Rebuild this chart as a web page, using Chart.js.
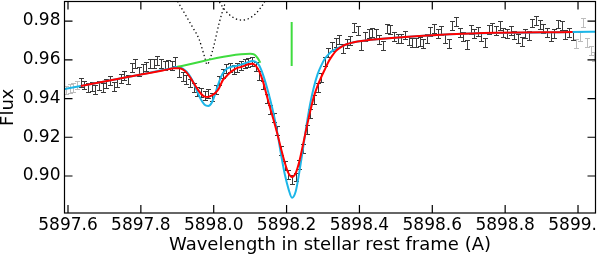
<!DOCTYPE html>
<html>
<head>
<meta charset="utf-8">
<script src="https://cdn.jsdelivr.net/npm/chart.js@4.4.0/dist/chart.umd.min.js"></script>
<style>
  body { margin: 0; background: #fff; }
  #wrap { width: 598px; height: 259px; overflow: hidden; }
  /* canvas is a bit larger so the plot box can touch the top/right edges */
  #spec { display: block; margin-top: -13px; }
</style>
</head>
<body>
<div id="wrap"><canvas id="spec" width="630" height="272"></canvas></div>
<script>
// observed spectrum (wavelength in A, normalised flux)
const wave = [
  5897.595, 5897.605, 5897.615, 5897.625, 5897.635, 5897.645, 5897.655, 5897.665, 5897.675, 5897.685,
  5897.695, 5897.705, 5897.715, 5897.725, 5897.735, 5897.745, 5897.755, 5897.765, 5897.775, 5897.785,
  5897.795, 5897.805, 5897.815, 5897.825, 5897.835, 5897.845, 5897.855, 5897.865, 5897.875, 5897.885,
  5897.895, 5897.905, 5897.915, 5897.925, 5897.935, 5897.945, 5897.955, 5897.965, 5897.975, 5897.985,
  5897.995, 5898.005, 5898.015, 5898.025, 5898.035, 5898.045, 5898.055, 5898.065, 5898.075, 5898.085,
  5898.095, 5898.105, 5898.115, 5898.125, 5898.135, 5898.145, 5898.155, 5898.165, 5898.175, 5898.185,
  5898.195, 5898.205, 5898.215, 5898.225, 5898.235, 5898.245, 5898.255, 5898.265, 5898.275, 5898.285,
  5898.295, 5898.305, 5898.315, 5898.325, 5898.335, 5898.345, 5898.355, 5898.365, 5898.375, 5898.385,
  5898.395, 5898.405, 5898.415, 5898.425, 5898.435, 5898.445, 5898.455, 5898.465, 5898.475, 5898.485,
  5898.495, 5898.505, 5898.515, 5898.525, 5898.535, 5898.545, 5898.555, 5898.565, 5898.575, 5898.585,
  5898.595, 5898.605, 5898.615, 5898.625, 5898.635, 5898.645, 5898.655, 5898.665, 5898.675, 5898.685,
  5898.695, 5898.705, 5898.715, 5898.725, 5898.735, 5898.745, 5898.755, 5898.765, 5898.775, 5898.785,
  5898.795, 5898.805, 5898.815, 5898.825, 5898.835, 5898.845, 5898.855, 5898.865, 5898.875, 5898.885,
  5898.895, 5898.905, 5898.915, 5898.925, 5898.935, 5898.945, 5898.955, 5898.965, 5898.975, 5898.985,
  5898.995, 5899.005, 5899.015, 5899.025, 5899.035, 5899.045
];
const flux = [
  0.9444, 0.9452, 0.9458, 0.9470, 0.9482, 0.9470, 0.9455, 0.9462, 0.9446, 0.9468,
  0.9455, 0.9478, 0.9493, 0.9462, 0.9480, 0.9505, 0.9518, 0.9497, 0.9560, 0.9582,
  0.9540, 0.9556, 0.9565, 0.9580, 0.9583, 0.9598, 0.9580, 0.9570, 0.9575, 0.9572,
  0.9590, 0.9535, 0.9512, 0.9498, 0.9480, 0.9458, 0.9436, 0.9432, 0.9418, 0.9425,
  0.9408, 0.9445, 0.9492, 0.9528, 0.9555, 0.9562, 0.9550, 0.9558, 0.9572, 0.9580,
  0.9585, 0.9592, 0.9565, 0.9520, 0.9470, 0.9400, 0.9345, 0.9300, 0.9235, 0.9130,
  0.9055, 0.9010, 0.8980, 0.8995, 0.9060, 0.9140, 0.9240, 0.9325, 0.9395, 0.9455,
  0.9510, 0.9590, 0.9640, 0.9668, 0.9690, 0.9705, 0.9660, 0.9685, 0.9700, 0.9765,
  0.9752, 0.9676, 0.9720, 0.9738, 0.9742, 0.9736, 0.9705, 0.9676, 0.9762, 0.9755,
  0.9718, 0.9712, 0.9708, 0.9728, 0.9700, 0.9690, 0.9688, 0.9695, 0.9683, 0.9712,
  0.9745, 0.9760, 0.9738, 0.9752, 0.9710, 0.9685, 0.9775, 0.9800, 0.9742, 0.9718,
  0.9680, 0.9755, 0.9738, 0.9745, 0.9720, 0.9690, 0.9758, 0.9765, 0.9752, 0.9778,
  0.9740, 0.9735, 0.9752, 0.9728, 0.9708, 0.9695, 0.9738, 0.9725, 0.9790, 0.9805,
  0.9780, 0.9762, 0.9740, 0.9722, 0.9735, 0.9785, 0.9778, 0.9730, 0.9740, 0.9725,
  0.9685, 0.9720, 0.9792, 0.9690, 0.9648, 0.9615
];
const fluxErr = 0.0023;
const fitRange = [5897.63, 5898.99];   // points outside are drawn grey

// best fit model (red)
const fitWave = [
  5897.635, 5897.70, 5897.80, 5897.86, 5897.89, 5897.905, 5897.915, 5897.925, 5897.935, 5897.945,
  5897.955, 5897.965, 5897.975, 5897.985, 5897.995, 5898.005, 5898.015, 5898.025, 5898.035, 5898.045,
  5898.055, 5898.065, 5898.075, 5898.085, 5898.095, 5898.105, 5898.115, 5898.125, 5898.135, 5898.145,
  5898.155, 5898.165, 5898.175, 5898.185, 5898.195, 5898.205, 5898.215, 5898.225, 5898.235, 5898.245,
  5898.255, 5898.265, 5898.275, 5898.285, 5898.295, 5898.305, 5898.315, 5898.325, 5898.335, 5898.345,
  5898.355, 5898.365, 5898.375, 5898.395, 5898.455, 5898.565, 5898.725, 5898.985
];
const fitFlux = [
  0.9465, 0.9488, 0.9524, 0.9545, 0.9556, 0.9557, 0.9550, 0.9535, 0.9510, 0.9480,
  0.9450, 0.9425, 0.9410, 0.9408, 0.9416, 0.9430, 0.9455, 0.9495, 0.9515, 0.9535,
  0.9548, 0.9558, 0.9563, 0.9570, 0.9577, 0.9580, 0.9570, 0.9540, 0.9490, 0.9420,
  0.9350, 0.9285, 0.9215, 0.9140, 0.9070, 0.9015, 0.8995, 0.9015, 0.9075, 0.9160,
  0.9250, 0.9335, 0.9410, 0.9465, 0.9510, 0.9550, 0.9590, 0.9620, 0.9645, 0.9660,
  0.9672, 0.9680, 0.9686, 0.9694, 0.9707, 0.9723, 0.9737, 0.9743
];

// intrinsic profile (cyan)
const intrWave = [
  5897.585, 5897.635, 5897.70, 5897.80, 5897.86, 5897.885, 5897.895, 5897.905, 5897.915, 5897.925,
  5897.935, 5897.945, 5897.955, 5897.965, 5897.975, 5897.985, 5897.995, 5898.005, 5898.015, 5898.025,
  5898.035, 5898.045, 5898.055, 5898.065, 5898.075, 5898.085, 5898.095, 5898.105, 5898.115, 5898.125,
  5898.135, 5898.145, 5898.155, 5898.165, 5898.175, 5898.185, 5898.195, 5898.205, 5898.215, 5898.225,
  5898.235, 5898.245, 5898.255, 5898.265, 5898.275, 5898.285, 5898.295, 5898.305, 5898.315, 5898.325,
  5898.335, 5898.345, 5898.355, 5898.365, 5898.375, 5898.395, 5898.455, 5898.565, 5898.725, 5898.985,
  5899.055
];
const intrFlux = [
  0.9447, 0.9465, 0.9488, 0.9524, 0.9547, 0.9557, 0.9563, 0.9562, 0.9555, 0.9540,
  0.9515, 0.9480, 0.9435, 0.9395, 0.9368, 0.9362, 0.9380, 0.9430, 0.9488, 0.9530,
  0.9552, 0.9562, 0.9567, 0.9570, 0.9575, 0.9581, 0.9588, 0.9594, 0.9590, 0.9570,
  0.9525, 0.9465, 0.9395, 0.9315, 0.9220, 0.9110, 0.9010, 0.8935, 0.8888, 0.8920,
  0.9020, 0.9140, 0.9265, 0.9375, 0.9460, 0.9525, 0.9570, 0.9605, 0.9628, 0.9645,
  0.9655, 0.9664, 0.9672, 0.9680, 0.9686, 0.9694, 0.9707, 0.9723, 0.9737, 0.9743,
  0.9745
];

// local continuum (green) and line centre marker
const contWave = [5897.90, 5898.10, 5898.112, 5898.122, 5898.128];
const contFlux = [0.9564, 0.9631, 0.9627, 0.9605, 0.9585];
const markWave = [5898.214, 5898.214];
const markFlux = [0.9568, 0.9795];

// telluric lines (dotted)
const tellAWave = [5897.88, 5897.90, 5897.92, 5897.94, 5897.96, 5897.975, 5897.982, 5897.99, 5898.00, 5898.015, 5898.03, 5898.045];
const tellAFlux = [0.9975, 0.9905, 0.9840, 0.9775, 0.9705, 0.9615, 0.9575, 0.9605, 0.9670, 0.9790, 0.9885, 0.9960];
const tellBWave = [5898.005, 5898.02, 5898.04, 5898.06, 5898.077, 5898.095, 5898.115, 5898.135, 5898.15];
const tellBFlux = [0.9935, 0.9885, 0.9838, 0.9812, 0.9805, 0.9812, 0.9838, 0.9885, 0.9935];

const xTicks = [5897.6, 5897.8, 5898.0, 5898.2, 5898.4, 5898.6, 5898.8, 5899.0];
const yTicks = [0.90, 0.92, 0.94, 0.96, 0.98];

const FONT = "'DejaVu Sans', sans-serif";

function pts(xs, ys){
  return xs.map((v, i) => ({x: v, y: ys[i]}));
}

function lineSet(label, xs, ys, color, width, order, extra){
  return Object.assign({
    label: label,
    data: pts(xs, ys),
    showLine: true,
    borderColor: color,
    borderWidth: width,
    pointRadius: 0,
    cubicInterpolationMode: 'monotone',
    clip: 0,
    order: order
  }, extra || {});
}

// error bars for the observed points
const errorBars = {
  id: 'errorBars',
  beforeDatasetsDraw(chart){
    const {ctx, chartArea, scales} = chart;
    ctx.save();
    ctx.beginPath();
    ctx.rect(chartArea.left, chartArea.top, chartArea.width, chartArea.height);
    ctx.clip();
    ctx.lineWidth = 1;
    for(let i = 0; i < wave.length; i++){
      let inFit = wave[i] >= fitRange[0] && wave[i] <= fitRange[1];
      ctx.strokeStyle = inFit ? '#3a3a3a' : '#bcbcbc';
      let px = Math.round(scales.x.getPixelForValue(wave[i])) + 0.5;
      let top = Math.round(scales.y.getPixelForValue(flux[i] + fluxErr)) + 0.5;
      let bot = Math.round(scales.y.getPixelForValue(flux[i] - fluxErr)) + 0.5;
      ctx.beginPath();
      ctx.moveTo(px, top); ctx.lineTo(px, bot);
      ctx.moveTo(px - 2.5, top); ctx.lineTo(px + 2.5, top);
      ctx.moveTo(px - 2.5, bot); ctx.lineTo(px + 2.5, bot);
      ctx.stroke();
    }
    ctx.restore();
  }
};

// matplotlib style box with inward ticks on all sides
const frame = {
  id: 'frame',
  afterDatasetsDraw(chart){
    const {ctx, chartArea: a, scales} = chart;
    const len = 8;
    ctx.save();
    ctx.strokeStyle = '#000';
    ctx.lineWidth = 1.2;
    ctx.beginPath();
    xTicks.forEach(v => {
      let px = scales.x.getPixelForValue(v);
      ctx.moveTo(px, a.bottom); ctx.lineTo(px, a.bottom - len);
      ctx.moveTo(px, a.top); ctx.lineTo(px, a.top + len);
    });
    yTicks.forEach(v => {
      let py = scales.y.getPixelForValue(v);
      ctx.moveTo(a.left, py); ctx.lineTo(a.left + len, py);
      ctx.moveTo(a.right, py); ctx.lineTo(a.right - len, py);
    });
    ctx.stroke();
    ctx.strokeRect(a.left, a.top, a.right - a.left, a.bottom - a.top);
    ctx.restore();
  }
};

const ctx = document.getElementById('spec');
new Chart(ctx, {
  type: 'scatter',
  data: {
    datasets: [
      lineSet('fit', fitWave, fitFlux, '#ff0000', 2, 1),
      lineSet('continuum', contWave, contFlux, '#3fdc3f', 2, 2),
      lineSet('intrinsic', intrWave, intrFlux, '#1cb6e8', 2, 3),
      lineSet('telluric A', tellAWave, tellAFlux, '#000', 1.3, 4, {borderDash: [1.3, 2.7]}),
      lineSet('telluric B', tellBWave, tellBFlux, '#000', 1.3, 5, {borderDash: [1.3, 2.7]}),
      lineSet('centre', markWave, markFlux, '#3fdc3f', 2, 6, {cubicInterpolationMode: 'default'}),
      {label: 'data', data: pts(wave, flux), pointRadius: 0, order: 7}
    ]
  },
  options: {
    responsive: false,
    animation: false,
    events: [],
    layout: {padding: {top: 14.5, right: 34.5, left: 0, bottom: 0}},
    plugins: {legend: {display: false}, tooltip: {enabled: false}},
    scales: {
      x: {
        type: 'linear',
        min: 5897.5904,
        max: 5899.048,
        afterBuildTicks: s => { s.ticks = xTicks.map(v => ({value: v})); },
        afterFit: s => { s.height = 46; },
        grid: {display: false, drawTicks: false},
        border: {display: false},
        ticks: {
          callback: v => v.toFixed(1),
          font: {family: FONT, size: 17},
          color: '#000',
          padding: 2,
          maxRotation: 0,
          autoSkip: false
        },
        title: {
          display: true,
          text: 'Wavelength in stellar rest frame (A)',
          font: {family: FONT, size: 18},
          color: '#000',
          padding: {top: 0, bottom: 3}
        }
      },
      y: {
        type: 'linear',
        min: 0.8809,
        max: 0.9901,
        afterBuildTicks: s => { s.ticks = yTicks.map(v => ({value: v})); },
        afterFit: s => { s.width = 64.5; },
        grid: {display: false, drawTicks: false},
        border: {display: false},
        ticks: {
          callback: v => v.toFixed(2),
          font: {family: FONT, size: 17},
          color: '#000',
          padding: 4
        },
        title: {
          display: true,
          text: 'Flux',
          font: {family: FONT, size: 18, lineHeight: 0.88},
          color: '#000',
          padding: {top: 0, bottom: 0}
        }
      }
    }
  },
  plugins: [errorBars, frame]
});
</script>
</body>
</html>
